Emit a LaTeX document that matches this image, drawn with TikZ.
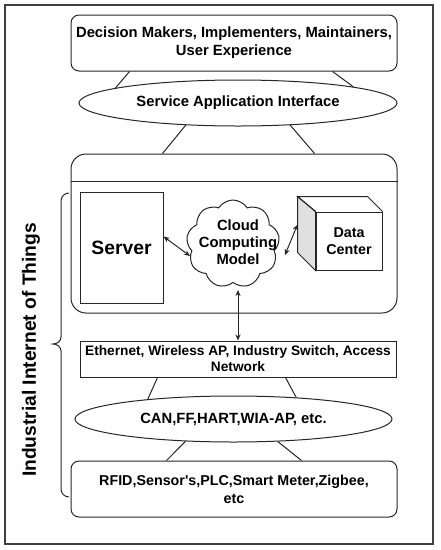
\documentclass[tikz,border=0pt]{standalone}
\usepackage{fontspec}
\setmainfont{Liberation Sans}
\usetikzlibrary{shapes.geometric,shapes.symbols,arrows.meta,calc}
\tikzset{
  every node/.style={font=\bfseries},
  ln/.style={line width=1pt, draw=black!85},
  rbox/.style={ln, draw, rounded corners=8pt, minimum width=326pt, minimum height=56pt, align=center, inner sep=0pt, font=\fontsize{14.8}{18}\selectfont\bfseries},
  ell/.style={ln, draw, ellipse, inner sep=0pt, font=\fontsize{14.8}{18}\selectfont\bfseries},
  sbox/.style={ln, draw, inner sep=0pt, align=center},
  dbl/.style={ln, {Stealth[length=6pt,width=5pt]}-{Stealth[length=6pt,width=5pt]}},
  sgl/.style={ln, -{Stealth[length=6pt,width=5pt]}}
}
\begin{document}
\begin{tikzpicture}[x=1pt,y=-1pt]
\useasboundingbox (0,0) rectangle (440,550);
\draw[line width=1.2pt, draw=black!75] (5,5) rectangle (433,544);

% top
\node[rbox] (top) at (234,43) {Decision Makers, Implementers, Maintainers,\\User Experience};
\node[ell, minimum width=318pt, minimum height=46pt] (sai) at (238,103) {Service Application Interface};

% container
\node[ln, draw, rounded corners=15pt, minimum width=326pt, minimum height=159pt, inner sep=0pt] (cont) at (234,233.5) {};
\draw[ln] ($(cont.north west)+(0,28)$) -- ($(cont.north east)+(0,28)$);

\node[sbox, minimum width=83pt, minimum height=111pt, font=\fontsize{19.3}{22}\selectfont\bfseries] (server) at (121.5,247.5) {Server};
\node[ln, draw, cloud, cloud puffs=9, cloud puff arc=115, aspect=1.05, minimum width=93pt, minimum height=88pt, inner sep=0pt, align=center] (cloud) at (233,244) {};
\node[align=center, font=\fontsize{14.8}{17}\selectfont\bfseries] (cloudtxt) at (238,242) {Cloud\\Computing\\Model};

% data center cube
\node[sbox, minimum width=66pt, minimum height=58pt, font=\fontsize{14.3}{17}\selectfont\bfseries] (dc) at (349,241) {Data\\Center};
\draw[ln, fill=black!12] (dc.north west) -- ++(-18,-15) -- ($(dc.south west)+(-18,-18)$) -- (dc.south west) -- cycle;
\draw[ln] (dc.north west) -- ++(-18,-15) -- ($(dc.north east)+(-15,-15)$) -- (dc.north east);

% network
\node[sbox, minimum width=316pt, minimum height=36pt, font=\fontsize{13.7}{16}\selectfont\bfseries] (eth) at (238,359) {Ethernet, Wireless AP, Industry Switch, Access\\Network};
\node[ell, minimum width=317pt, minimum height=46pt] (can) at (233.5,419) {CAN,FF,HART,WIA-AP, etc.};
\node[rbox, font=\fontsize{14.3}{18}\selectfont\bfseries] (bot) at (234,489) {RFID,Sensor\textquotesingle s,PLC,Smart Meter,Zigbee,\\etc};

% connectors
\draw[ln] ($(top.south west)+(59,0)$) -- (sai.173.2);
\draw[ln] ($(top.south west)+(262,0)$) -- (sai.8.3);
\draw[ln] (sai.203.1) -- ($(cont.north west)+(92,0)$);
\draw[ln] (sai.337) -- ($(cont.north west)+(244,0)$);
\draw[ln] ($(eth.south west)+(78,0)$) -- (can.167.8);
\draw[ln] ($(eth.south west)+(206,0)$) -- (can.19.4);
\draw[ln] (can.205.3) -- ($(bot.north west)+(96,0)$);
\draw[ln] (can.333.1) -- ($(bot.north west)+(231,0)$);

\draw[dbl] ($(server.north east)+(0,45)$) -- ($(cloud.center)+(-43,12)$);
\draw[dbl] ($(cloud.center)+(52,11)$) -- ($(dc.north west)+(-18,13)$);
\draw[dbl] ($(cloud.center)+(5,46)$) -- ($(eth.north)$);

% brace and label
\draw[ln] (69,193) to[out=180,in=90] (61,201) -- (61,337) to[out=270,in=0] (53,344) to[out=0,in=90] (61,351) -- (61,489) to[out=270,in=180] (69,497);
\node[rotate=90, font=\fontsize{19.2}{22}\selectfont\bfseries] (iiot) at (31,350) {Industrial Internet of Things};
\end{tikzpicture}
\end{document}
